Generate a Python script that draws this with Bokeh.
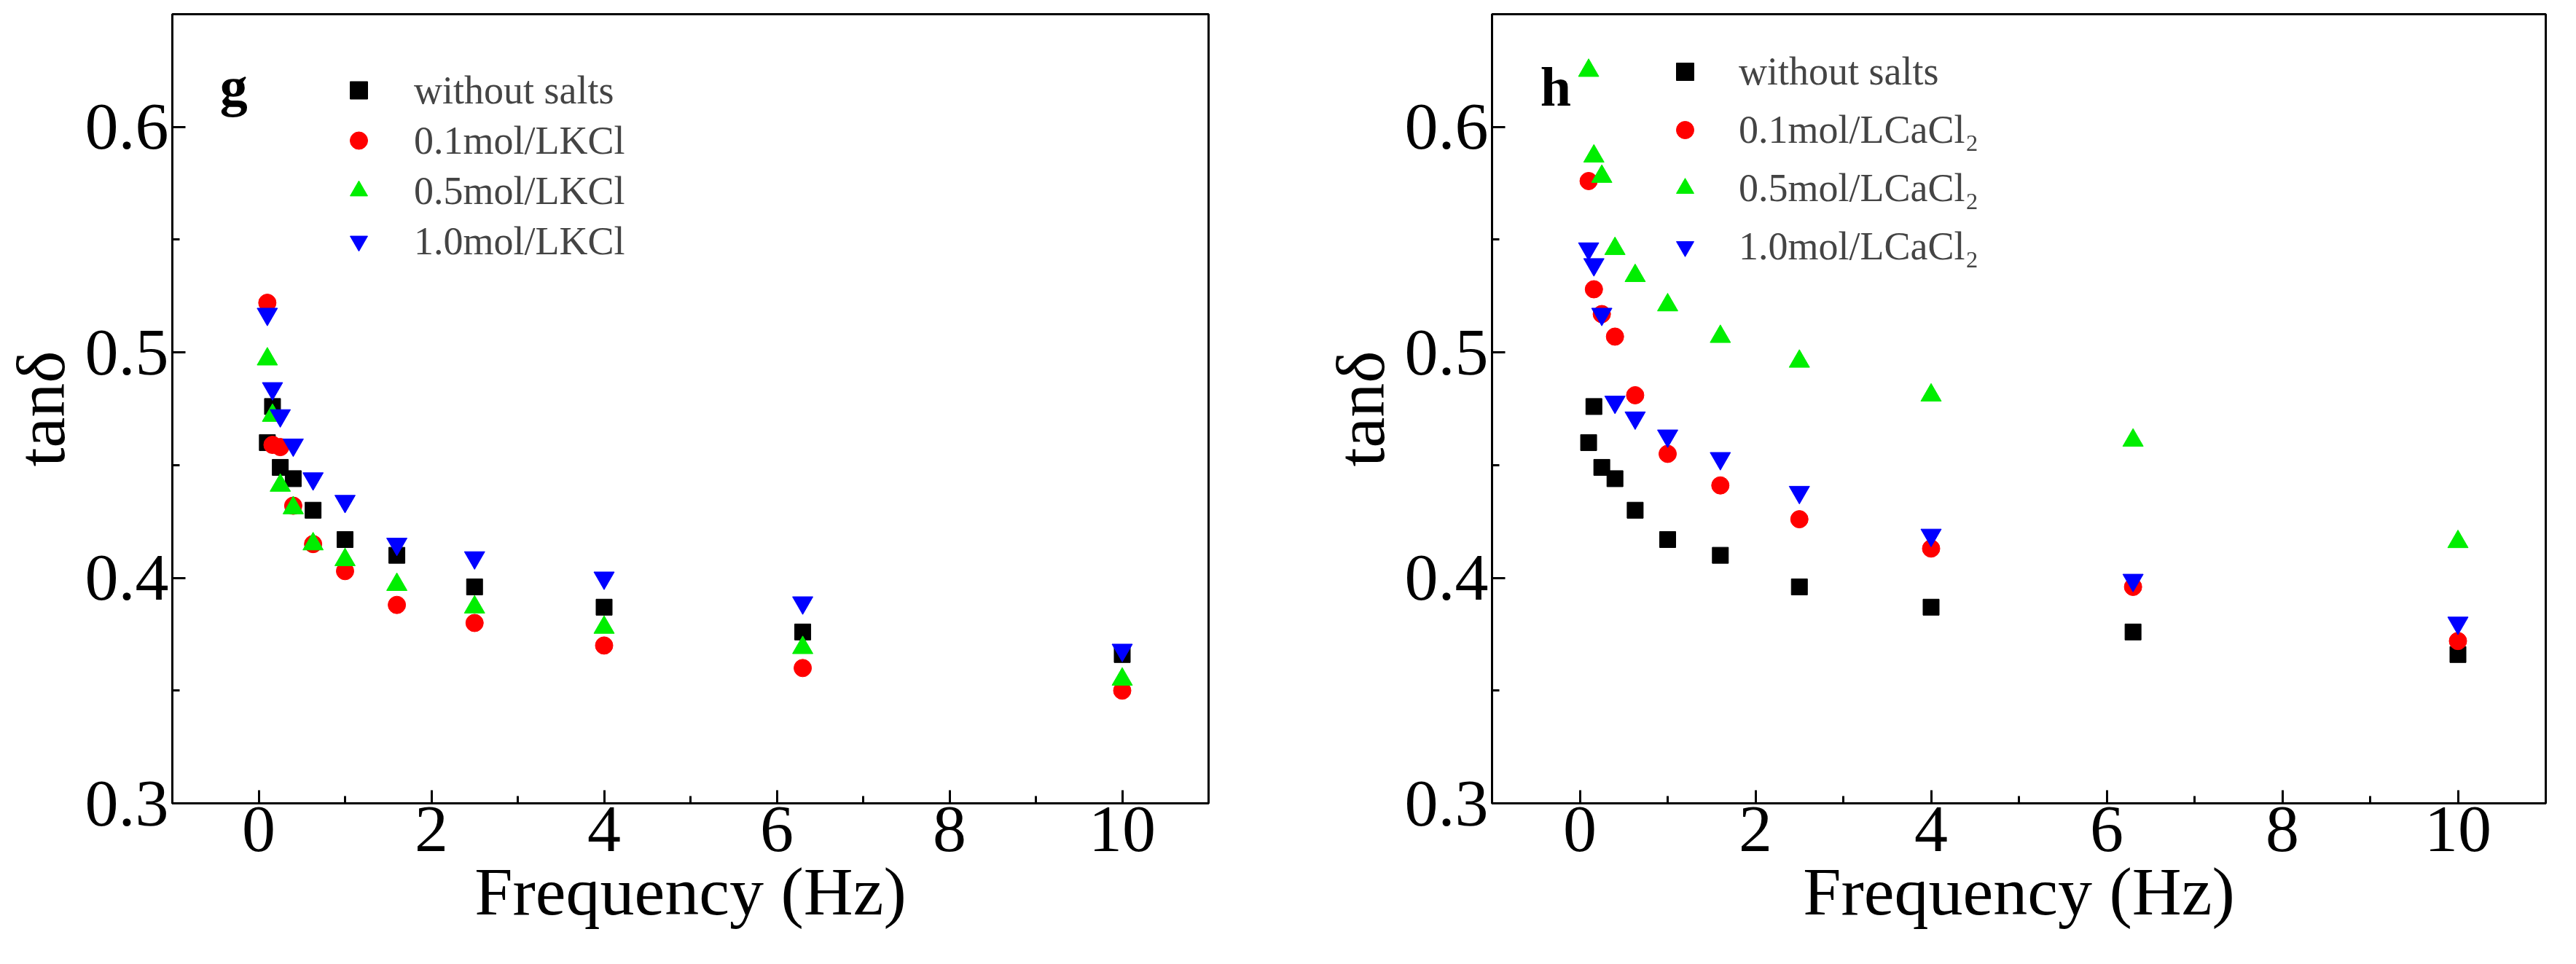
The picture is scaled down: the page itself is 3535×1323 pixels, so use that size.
from bokeh.plotting import figure
from bokeh.layouts import row
from bokeh.models import Range1d, FixedTicker, Legend, LegendItem
from bokeh.embed import file_html
from bokeh.resources import INLINE

freq = [0.1, 0.16, 0.25, 0.4, 0.63, 1.0, 1.6, 2.5, 4.0, 6.3, 10.0]
none_salt = [0.460, 0.476, 0.449, 0.444, 0.430, 0.417, 0.410, 0.396, 0.387, 0.376, 0.366]
kcl_01 = [0.522, 0.459, 0.458, 0.432, 0.415, 0.403, 0.388, 0.380, 0.370, 0.360, 0.350]
kcl_05 = [0.497, 0.472, 0.441, 0.431, 0.415, 0.408, 0.397, 0.387, 0.378, 0.369, 0.355]
kcl_10 = [0.517, 0.484, 0.472, 0.459, 0.444, 0.434, 0.415, 0.409, 0.400, 0.389, 0.368]
cacl_01 = [0.576, 0.528, 0.517, 0.507, 0.481, 0.455, 0.441, 0.426, 0.413, 0.396, 0.372]
cacl_05 = [0.625, 0.587, 0.578, 0.546, 0.534, 0.521, 0.507, 0.496, 0.481, 0.461, 0.416]
cacl_10 = [0.546, 0.539, 0.517, 0.478, 0.471, 0.463, 0.453, 0.438, 0.419, 0.399, 0.380]

F = "Liberation Serif"

def make(series, labels, letter, bl, br, rowh, lx, ly, stand):
    p = figure(width=1755, height=1300, output_backend="svg", toolbar_location=None,
               x_range=Range1d(-1, 11), y_range=Range1d(0.3, 0.65),
               min_border_left=bl, min_border_right=br, min_border_top=19, min_border_bottom=198)
    p.grid.visible = False
    p.outline_line_color = "black"; p.outline_line_width = 3
    for ax in (p.xaxis[0], p.yaxis[0]):
        ax.axis_line_width = 3; ax.axis_line_color = "black"
        ax.major_tick_in = 18; ax.major_tick_out = 0
        ax.minor_tick_in = 10; ax.minor_tick_out = 0
        ax.major_tick_line_width = 3; ax.minor_tick_line_width = 3
        ax.major_tick_line_color = "black"; ax.minor_tick_line_color = "black"
        ax.major_label_text_font = F; ax.major_label_text_font_size = "92px"
        ax.axis_label_text_font = F; ax.axis_label_text_font_size = "94px"
        ax.axis_label_text_font_style = "normal"
        ax.major_label_text_color = "black"; ax.axis_label_text_color = "black"
    p.xaxis.ticker = FixedTicker(ticks=[0, 2, 4, 6, 8, 10], minor_ticks=[1, 3, 5, 7, 9])
    p.yaxis.ticker = FixedTicker(ticks=[0.3, 0.4, 0.5, 0.6], minor_ticks=[0.35, 0.45, 0.55])
    p.yaxis.major_label_overrides = {0.3: "0.3", 0.4: "0.4", 0.5: "0.5", 0.6: "0.6"}
    p.xaxis.axis_label = "Frequency (Hz)"
    p.yaxis.axis_label = "tanδ"
    p.xaxis.axis_label_standoff = 0
    p.yaxis.axis_label_standoff = 6
    items = []
    styles = [("square", "black", 22), ("circle", "red", 24), ("triangle", "#00ee00", 28), ("inverted_triangle", "blue", 28)]
    for ys, lab, (m, c, s) in zip(series, labels, styles):
        r = p.scatter(freq, ys, marker=m, size=s, color=c)
        items.append(LegendItem(label=lab, renderers=[r]))
    lg = Legend(items=items, location=(lx, ly), background_fill_alpha=0, border_line_alpha=0,
                padding=0, spacing=0, glyph_width=60, glyph_height=rowh, label_height=rowh,
                label_standoff=stand, label_text_font=F, label_text_font_size="54px")
    p.add_layout(lg, "center")
    p.text(x=[-0.45], y=[0.618], text=[letter], text_font={"value": F}, text_font_size="76px",
           text_font_style="bold", text_baseline="middle", text_align="left")
    return p

p1 = make([none_salt, kcl_01, kcl_05, kcl_10],
          ["without salts", "0.1mol/LKCl", "0.5mol/LKCl", "1.0mol/LKCl"],
          "g", 212, 97, 69, 226, 737, 46)
p2 = make([none_salt, cacl_01, cacl_05, cacl_10],
          ["without salts", "0.1mol/LCaCl₂", "0.5mol/LCaCl₂", "1.0mol/LCaCl₂"],
          "h", 292, 17, 80, 235, 724, 44)
lay = row(p1, p2)
open("out.html", "w").write(file_html(lay, INLINE))
